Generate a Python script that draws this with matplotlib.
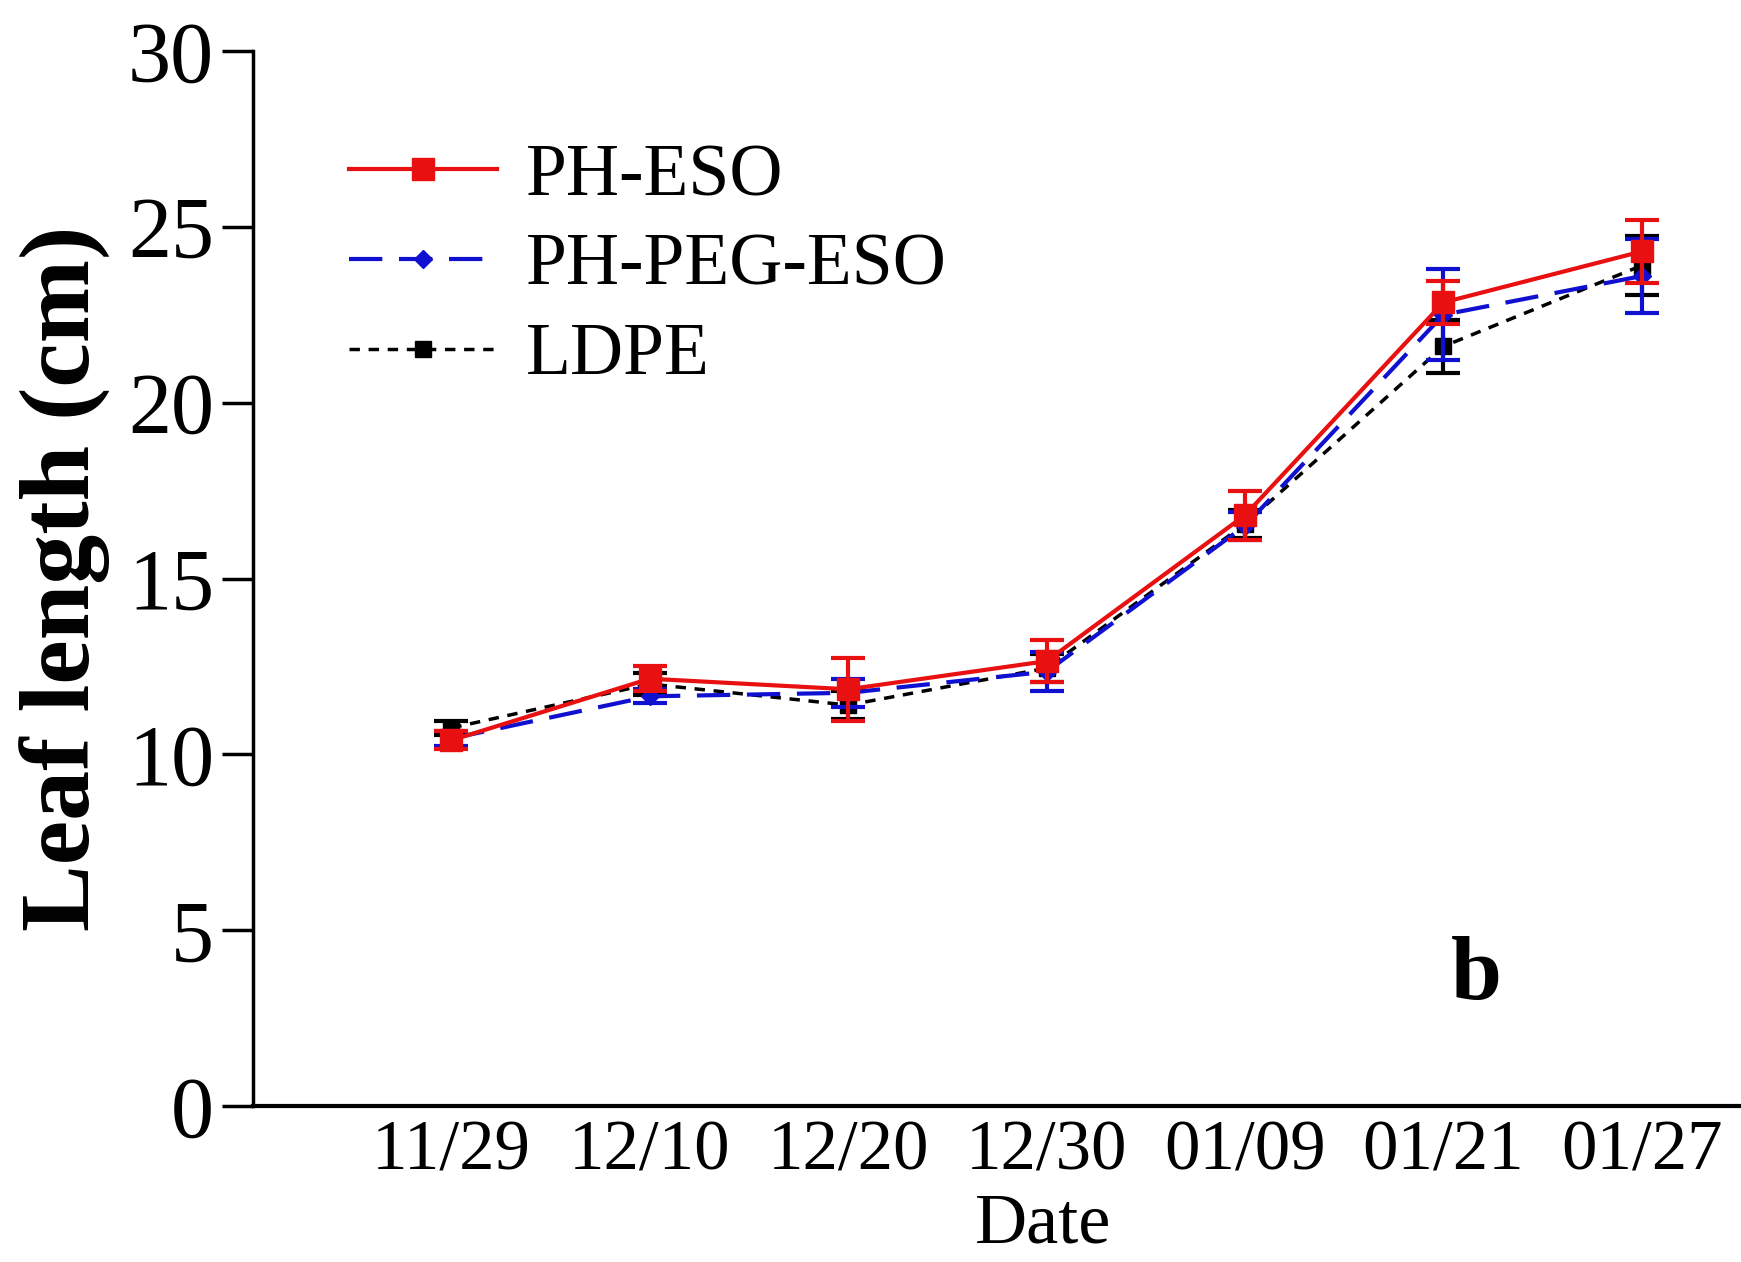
import matplotlib.pyplot as plt
import numpy as np

dates = ['11/29', '12/10', '12/20', '12/30', '01/09', '01/21', '01/27']
ph_eso = [10.4, 12.15, 11.85, 12.65, 16.8, 22.85, 24.3]
ph_eso_err = [0.25, 0.35, 0.9, 0.6, 0.7, 0.6, 0.9]
ph_peg_eso = [10.45, 11.65, 11.75, 12.35, 16.5, 22.5, 23.6]
ph_peg_eso_err = [0.2, 0.2, 0.4, 0.55, 0.4, 1.3, 1.05]
ldpe = [10.75, 12.0, 11.4, 12.45, 16.55, 21.6, 23.9]
ldpe_err = [0.2, 0.3, 0.4, 0.4, 0.4, 0.75, 0.85]

plt.rcParams['font.family'] = ['Liberation Serif', 'DejaVu Serif']

fig = plt.figure(figsize=(17.41, 12.62), dpi=100)
ax = fig.add_axes([0.1453, 0.1236, 0.8547, 0.836])
x = np.arange(len(dates))

e3 = ax.errorbar(x, ldpe, yerr=ldpe_err, color='black', linestyle=(0, (3, 2.5)),
                 linewidth=2.5, marker='s', markersize=12, capsize=12, capthick=3,
                 elinewidth=3, zorder=2)
e2 = ax.errorbar(x, ph_peg_eso, yerr=ph_peg_eso_err, color='#1010d0', linestyle=(0, (8, 4)),
                 linewidth=3, marker='D', markersize=9, capsize=12, capthick=3,
                 elinewidth=3, zorder=3)
e1 = ax.errorbar(x, ph_eso, yerr=ph_eso_err, color='#e81010', linestyle='-',
                 linewidth=3, marker='s', markersize=16, capsize=12, capthick=3,
                 elinewidth=3, zorder=4)

ax.set_xlim(-1, 6.5)
ax.set_ylim(0, 30)
ax.set_yticks([0, 5, 10, 15, 20, 25, 30])
ax.set_xticks(x)
ax.set_xticklabels(dates, fontsize=51)
ax.tick_params(axis='y', labelsize=62, length=22, width=2.5, pad=6)
ax.tick_params(axis='x', length=0, pad=10)

for side in ['top', 'right']:
    ax.spines[side].set_visible(False)
ax.spines['left'].set_linewidth(2.5)
ax.spines['bottom'].set_linewidth(3)

ax.set_ylabel('Leaf length (cm)', fontsize=72, fontweight='bold', labelpad=12)
ax.set_xlabel('Date', fontsize=52)
ax.xaxis.set_label_coords(0.531, -0.082)
ax.text(0.822, 0.122, 'b', transform=ax.transAxes, fontsize=66, fontweight='bold',
        ha='center', va='center')

ax.legend([e1[0], e2[0], e3[0]], ['PH-ESO', 'PH-PEG-ESO', 'LDPE'],
          loc='upper left', bbox_to_anchor=(0.045, 0.94),
          frameon=False, fontsize=53, handlelength=2.0, handletextpad=0.4,
          labelspacing=0.3, borderaxespad=0)

fig.savefig('out.png', dpi=100)
